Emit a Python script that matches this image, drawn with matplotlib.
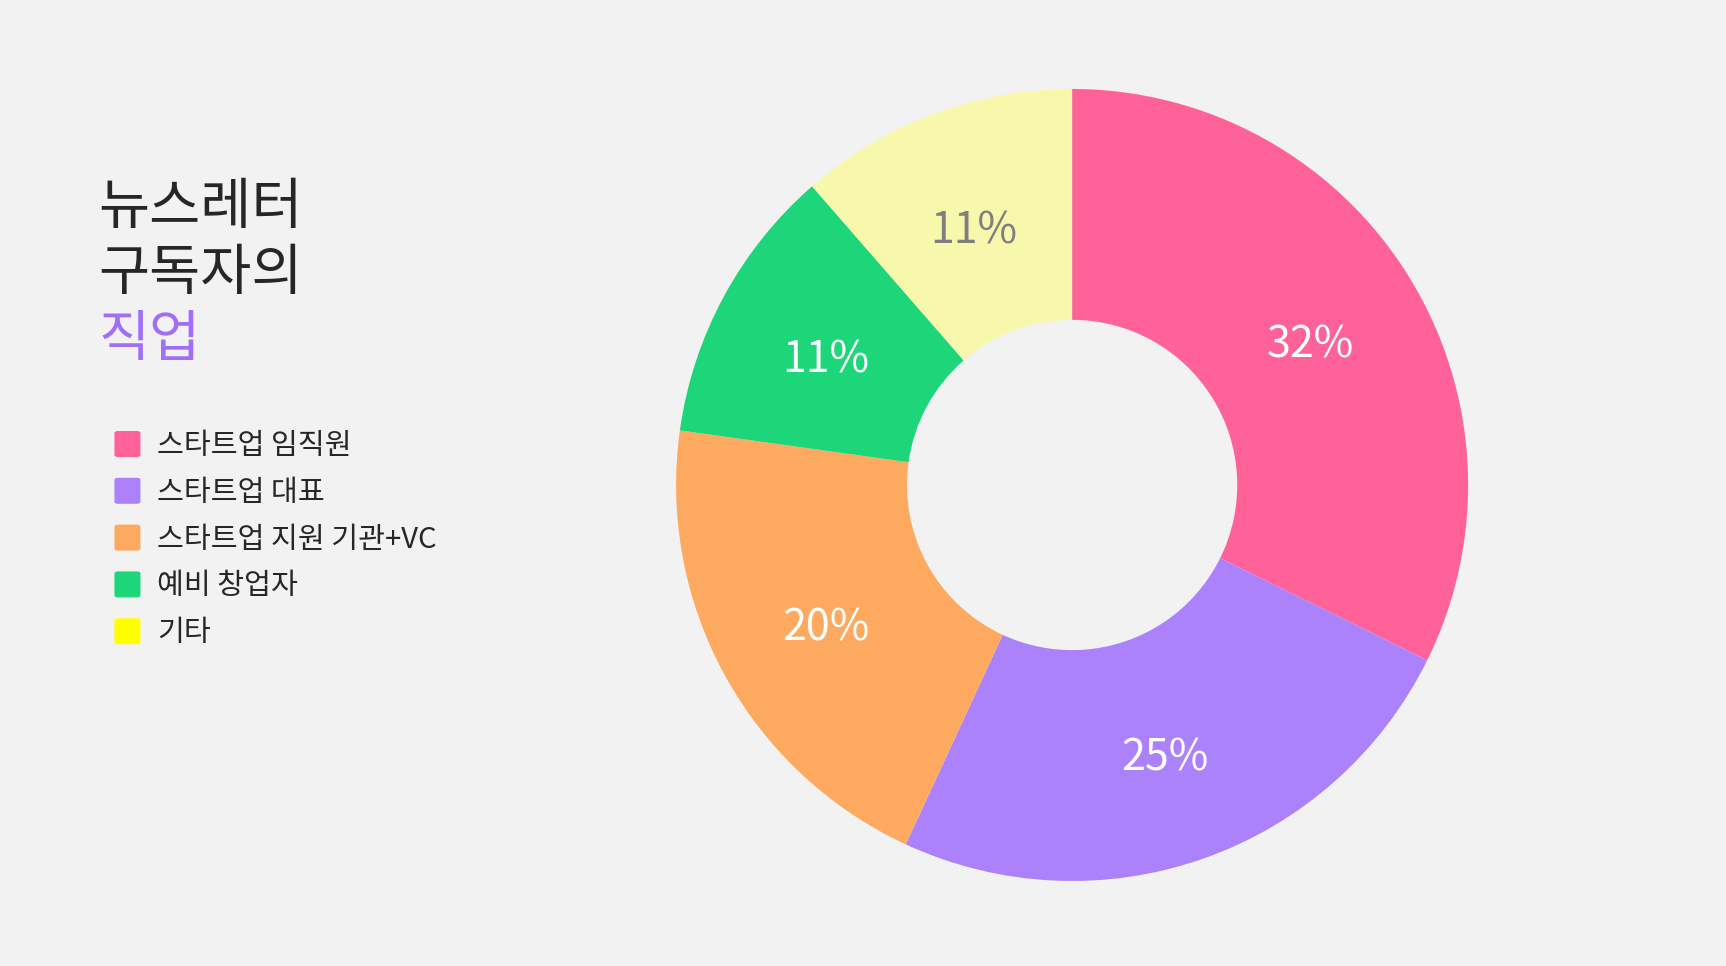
import matplotlib.pyplot as plt
from matplotlib.patches import FancyBboxPatch

plt.rcParams['font.family'] = ['Noto Sans CJK KR', 'DejaVu Sans']

# 데이터
categories = ["스타트업 임직원", "스타트업 대표", "스타트업 지원 기관+VC", "예비 창업자", "기타"]
shares = [32.3, 24.6, 20.3, 11.4, 11.4]

slice_colors = ["#FF6199", "#AB82FC", "#FDAA60", "#1DD67A", "#F8F8AD"]
legend_colors = ["#FF6199", "#AB82FC", "#FDAA60", "#1DD67A", "#FFFF00"]
label_colors = ["white", "white", "white", "white", "#7F7F7F"]
bg = "#F2F2F2"

fig = plt.figure(figsize=(17.26, 9.66), dpi=100, facecolor=bg)

# 도넛
ax = fig.add_axes([0.3917, 0.0880, 0.4589, 0.8199])
ax.set_facecolor(bg)
wedges, texts, autotexts = ax.pie(
    shares, colors=slice_colors, startangle=90, counterclock=False,
    radius=1.0, autopct="%.0f%%", pctdistance=0.708,
    wedgeprops=dict(width=0.583, linewidth=0),
    textprops=dict(fontsize=31, color="white"))
for t, c in zip(autotexts, label_colors):
    t.set_color(c)
    t.set_va("center_baseline")
    x, y = t.get_position()
    t.set_position((x, y - 0.01))
ax.set_xlim(-1, 1)
ax.set_ylim(-1, 1)
ax.axis("off")

# 제목
fig.text(0.057, 0.768, "뉴스레터", fontsize=40, color="#262626", va="baseline")
fig.text(0.057, 0.6996, "구독자의", fontsize=40, color="#262626", va="baseline")
fig.text(0.057, 0.6313, "직업", fontsize=40, color="#A06EFA", va="baseline")

# 범례
box = 26 / 1726
boxh = 26 / 966
y0 = 1 - 444 / 966
dy = 46.8 / 966
for i, (name, col) in enumerate(zip(categories, legend_colors)):
    y = y0 - i * dy
    fig.patches.append(FancyBboxPatch((0.0663, y - boxh / 2), box, boxh,
                                      boxstyle="round,pad=0,rounding_size=0.002",
                                      facecolor=col, edgecolor="none",
                                      transform=fig.transFigure, figure=fig))
    fig.text(0.0912, y - 0.002, name, fontsize=21, color="#262626", va="center")

fig.savefig("out.png", dpi=100, facecolor=bg)
